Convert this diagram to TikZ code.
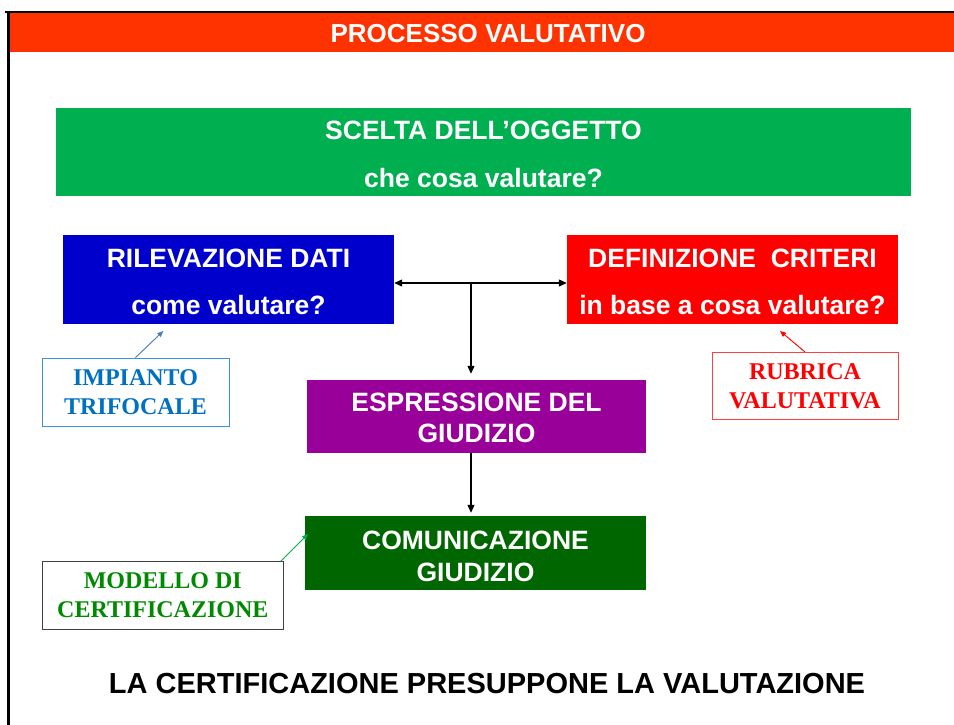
\documentclass[tikz,border=0pt]{standalone}
\usepackage{fontspec}
\setmainfont{Liberation Sans}
\newfontfamily\timesfont{Liberation Serif}
\usetikzlibrary{arrows.meta}
\definecolor{banner}{HTML}{FF3300}
\definecolor{sgreen}{HTML}{00B050}
\definecolor{sblue}{HTML}{0000CC}
\definecolor{sred}{HTML}{FF0000}
\definecolor{spurple}{HTML}{990099}
\definecolor{sdgreen}{HTML}{006600}
\definecolor{cblue}{HTML}{0070C0}
\definecolor{cblueb}{HTML}{3C92D8}
\definecolor{carrowb}{HTML}{4A7EBB}
\definecolor{cred}{HTML}{FF0000}
\definecolor{credb}{HTML}{FF4040}
\definecolor{cgreen}{HTML}{008A00}
\definecolor{cgrayb}{HTML}{404040}
\definecolor{carrowg}{HTML}{00B050}
\tikzset{
  mainbox/.style={inner sep=0pt, align=center, text=white},
  callout/.style={inner sep=0pt, align=center, line width=1pt,
    font=\timesfont\bfseries\fontsize{24}{29}\selectfont},
  flow/.style={line width=1.1pt, -{Triangle[length=8pt,width=7pt]}},
  flowboth/.style={line width=1.1pt, {Triangle[length=8pt,width=7pt]}-{Triangle[length=8pt,width=7pt]}},
  point/.style={line width=0.9pt, -{Triangle[length=6pt,width=5pt]}}
}
\begin{document}
\begin{tikzpicture}[x=1pt,y=-1pt]
\useasboundingbox[fill=white] (0,0) rectangle (954,725);
% frame and banner
\fill[banner] (10,13.5) rectangle (954,52);
\draw[line width=2.7pt] (5,12) -- (954,12);
\draw[line width=2.7pt] (8.7,10.7) -- (8.7,725);
\node[text=white, font=\bfseries\fontsize{26}{30}\selectfont] (title) at (488,34) {PROCESSO VALUTATIVO};
% main boxes
\node[mainbox, fill=sgreen, minimum width=855pt, minimum height=88pt,
  font=\bfseries\fontsize{26.5}{48}\selectfont] (scelta) at (483.5,152)
  {\rule{0pt}{23pt}SCELTA DELL’OGGETTO\\che cosa valutare?};
\node[mainbox, fill=sblue, minimum width=331pt, minimum height=89pt,
  font=\bfseries\fontsize{26.5}{47}\selectfont] (rilev) at (228.5,279.5)
  {\rule{0pt}{23pt}RILEVAZIONE DATI\\come valutare?};
\node[mainbox, fill=sred, minimum width=331pt, minimum height=89pt,
  font=\bfseries\fontsize{26.5}{47}\selectfont] (defin) at (732.5,279.5)
  {\rule{0pt}{23pt}DEFINIZIONE\ \ CRITERI\\in base a cosa valutare?};
\node[mainbox, fill=spurple, minimum width=339pt, minimum height=73pt,
  font=\bfseries\fontsize{26.5}{31}\selectfont] (espr) at (476.5,416.5)
  {\rule{0pt}{22pt}ESPRESSIONE DEL\\GIUDIZIO};
\node[mainbox, fill=sdgreen, minimum width=341pt, minimum height=74pt,
  font=\bfseries\fontsize{26.5}{32}\selectfont] (comun) at (475.5,553)
  {\rule{0pt}{25pt}COMUNICAZIONE\\GIUDIZIO};
% connectors
\coordinate (j) at (471,283);
\draw[flowboth] (rilev.east |- j) -- (defin.west |- j);
\draw[flow, shorten >=6pt] (j) -- (j |- espr.north);
\draw[flow, shorten >=3pt] (j |- espr.south) -- (j |- comun.north);
% callouts
\node[callout, draw=cblueb, text=cblue, minimum width=187pt, minimum height=68.5pt] (impianto) at (135.5,392.3) {IMPIANTO\\TRIFOCALE};
\node[callout, draw=credb, text=cred, minimum width=186pt, minimum height=67.5pt] (rubrica) at (805,386.2) {RUBRICA\\VALUTATIVA};
\node[callout, draw=cgrayb, text=cgreen, minimum width=241pt, minimum height=67.5pt] (modello) at (162.8,595.5) {MODELLO DI\\CERTIFICAZIONE};
\coordinate (pimp) at (163.3,331);
\coordinate (prub) at (780,331);
\coordinate (pmod) at (308,534);
\draw[point, draw=carrowb, fill=carrowb] (impianto.north) -- (pimp);
\draw[point, draw=cred, fill=cred] (rubrica.north) -- (prub);
\draw[point, draw=carrowg, fill=carrowg] ([xshift=-3pt]modello.north east) -- (pmod);
% bottom text
\node[font=\bfseries\fontsize{29}{34}\selectfont] (bottom) at (487,684) {LA CERTIFICAZIONE PRESUPPONE LA VALUTAZIONE};
\end{tikzpicture}
\end{document}
